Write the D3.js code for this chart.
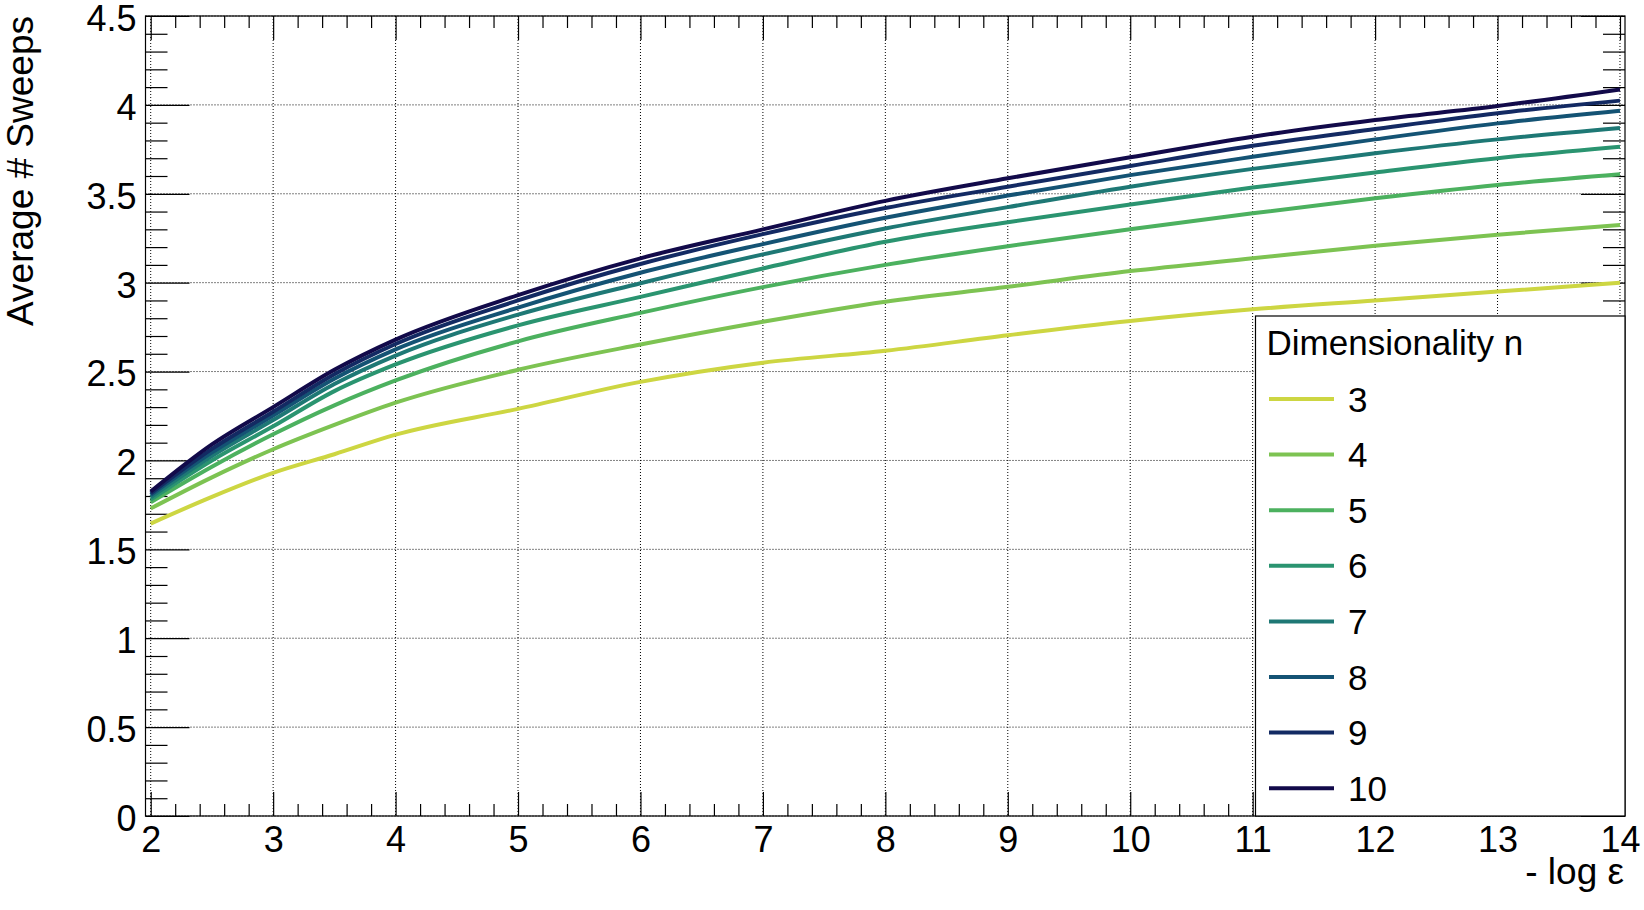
<!DOCTYPE html>
<meta charset="utf-8">
<script src="https://d3js.org/d3.v7.min.js"></script>
<style>
  body { margin: 0; background: #fff; }
  text { font-family: "Liberation Sans", Arial, Helvetica, sans-serif; fill: #000; }
</style>
<div id="chart"></div>
<script>

// x positions (-log eps) shared by every curve
var xs = [2, 2.5, 3, 3.5, 4, 5, 6, 7, 8, 9, 10, 11, 12, 13, 14];

// average number of sweeps, one array per dimensionality n
var n3  = [1.645, 1.795, 1.93, 2.035, 2.145, 2.29, 2.442, 2.55, 2.617, 2.704, 2.784, 2.85, 2.90, 2.95, 3.00];
var n4  = [1.73, 1.905, 2.063, 2.20, 2.325, 2.51, 2.652, 2.78, 2.893, 2.977, 3.065, 3.137, 3.208, 3.27, 3.325];
var n5  = [1.765, 1.965, 2.147, 2.31, 2.45, 2.67, 2.83, 2.975, 3.10, 3.205, 3.30, 3.39, 3.475, 3.55, 3.61];
var n6  = [1.78, 2.00, 2.192, 2.39, 2.54, 2.76, 2.92, 3.08, 3.23, 3.34, 3.44, 3.535, 3.62, 3.70, 3.765];
var n7  = [1.793, 2.025, 2.227, 2.43, 2.59, 2.82, 2.997, 3.159, 3.305, 3.425, 3.54, 3.64, 3.728, 3.806, 3.87];
var n8  = [1.805, 2.045, 2.253, 2.46, 2.625, 2.86, 3.056, 3.217, 3.365, 3.49, 3.605, 3.708, 3.806, 3.896, 3.967];
var n9  = [1.815, 2.065, 2.274, 2.485, 2.655, 2.90, 3.105, 3.273, 3.42, 3.54, 3.656, 3.77, 3.864, 3.953, 4.024];
var n10 = [1.825, 2.09, 2.30, 2.51, 2.68, 2.93, 3.137, 3.30, 3.46, 3.587, 3.705, 3.821, 3.915, 3.994, 4.087];

var seriesNames = ["3", "4", "5", "6", "7", "8", "9", "10"];
var seriesValues = [n3, n4, n5, n6, n7, n8, n9, n10];
var colors = ["#cdd642", "#7dc352", "#4cb15f", "#2a9470", "#1e7875", "#145374", "#132a63", "#120a4a"];

var xMajor = d3.range(2, 15);
var yMajor = d3.range(0, 9.5).map(function(i) { return i / 2; });

var W = 1644, H = 910;
var margin = {top: 16, right: 19, bottom: 94, left: 145.5};
var width = W - margin.left - margin.right,
    height = H - margin.top - margin.bottom;

var svg = d3.select("#chart")
  .append("svg")
    .attr("width", W)
    .attr("height", H)
  .append("g")
    .attr("transform", "translate(" + margin.left + "," + margin.top + ")");

var x = d3.scaleLinear().domain([1.9575, 14.041]).range([0, width]);
var y = d3.scaleLinear().domain([0, 4.5]).range([height, 0]);

// grid
svg.append("g").selectAll("line").data(xMajor).enter().append("line")
  .attr("x1", function(d) { return x(d); }).attr("x2", function(d) { return x(d); })
  .attr("y1", 0).attr("y2", height)
  .style("stroke", "#000").style("stroke-width", 1).style("stroke-dasharray", "1,2");
svg.append("g").selectAll("line").data(yMajor).enter().append("line")
  .attr("y1", function(d) { return y(d); }).attr("y2", function(d) { return y(d); })
  .attr("x1", 0).attr("x2", width)
  .style("stroke", "#000").style("stroke-width", 1).style("stroke-dasharray", "1,2");

// ticks (pointing inward on all four sides)
var xMinor = d3.range(10, 71).map(function(i) { return i / 5; }).filter(function(d) { return d % 1 !== 0; });
var yMinor = d3.range(0, 46).map(function(i) { return i / 10; }).filter(function(d) { return Math.round(d * 10) % 5 !== 0; });

function noDomain(g) { g.select(".domain").remove(); g.selectAll("line").style("stroke-width", 1.2); }

svg.append("g").attr("transform", "translate(0," + height + ")")
  .call(d3.axisBottom(x).tickValues(xMinor).tickSize(-12).tickFormat("")).call(noDomain);
svg.append("g").attr("transform", "translate(0," + height + ")")
  .call(d3.axisBottom(x).tickValues(xMajor).tickSize(-24).tickPadding(10).tickFormat(d3.format("d")))
  .call(noDomain)
  .selectAll("text").style("font-size", "36px").style("font-family", "Liberation Sans, Arial, sans-serif");
svg.append("g")
  .call(d3.axisTop(x).tickValues(xMinor).tickSize(-12).tickFormat("")).call(noDomain);
svg.append("g")
  .call(d3.axisTop(x).tickValues(xMajor).tickSize(-24).tickFormat("")).call(noDomain);

svg.append("g")
  .call(d3.axisLeft(y).tickValues(yMinor).tickSize(-22).tickFormat("")).call(noDomain);
svg.append("g")
  .call(d3.axisLeft(y).tickValues(yMajor).tickSize(-44).tickPadding(9).tickFormat(d3.format("~g")))
  .call(noDomain)
  .selectAll("text").attr("dy", "0.4em")
  .style("font-size", "36px").style("font-family", "Liberation Sans, Arial, sans-serif");
svg.append("g").attr("transform", "translate(" + width + ",0)")
  .call(d3.axisRight(y).tickValues(yMinor).tickSize(-22).tickFormat("")).call(noDomain);
svg.append("g").attr("transform", "translate(" + width + ",0)")
  .call(d3.axisRight(y).tickValues(yMajor).tickSize(-44).tickFormat("")).call(noDomain);

// curves
var line = d3.line()
  .x(function(d) { return x(d[0]); })
  .y(function(d) { return y(d[1]); })
  .curve(d3.curveMonotoneX);

seriesValues.forEach(function(vals, i) {
  svg.append("path")
    .datum(xs.map(function(xv, j) { return [xv, vals[j]]; }))
    .attr("d", line)
    .style("fill", "none")
    .style("stroke", colors[i])
    .style("stroke-width", 4);
});

// frame
svg.append("rect")
  .attr("x", 0).attr("y", 0).attr("width", width).attr("height", height)
  .style("fill", "none").style("stroke", "#000").style("stroke-width", 1.2);

// legend
var lg = svg.append("g").attr("transform", "translate(" + (1255.5 - margin.left) + "," + (316 - margin.top) + ")");
lg.append("rect")
  .attr("width", 1625 - 1255.5).attr("height", 500)
  .style("fill", "#fff").style("stroke", "#000").style("stroke-width", 1.2);
lg.append("text")
  .attr("x", 11).attr("y", 39)
  .style("font-size", "35px")
  .text("Dimensionality n");
seriesNames.forEach(function(name, i) {
  var ly = 83 + i * 55.6;
  lg.append("line")
    .attr("x1", 13.5).attr("x2", 78.5).attr("y1", ly).attr("y2", ly)
    .style("stroke", colors[i]).style("stroke-width", 4);
  lg.append("text")
    .attr("x", 92.5).attr("y", ly + 12.5)
    .style("font-size", "35px")
    .text(name);
});

// axis titles
svg.append("text")
  .attr("text-anchor", "end")
  .attr("transform", "translate(" + (33 - margin.left) + ",0) rotate(-90)")
  .style("font-size", "37px")
  .text("Average # Sweeps");

svg.append("text")
  .attr("text-anchor", "end")
  .attr("x", width - 1)
  .attr("y", 884 - margin.top)
  .style("font-size", "37px")
  .text("- log ε");

</script>
